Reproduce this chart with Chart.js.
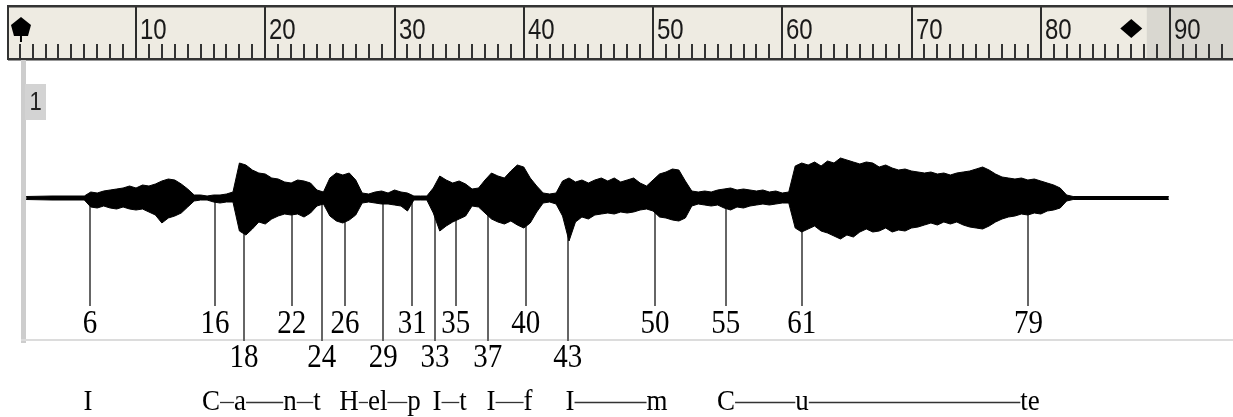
<!DOCTYPE html>
<html><head><meta charset="utf-8">
<script src="https://cdn.jsdelivr.net/npm/chart.js@4.4.1/dist/chart.umd.min.js"></script>
<style>html,body{margin:0;padding:0;background:#fff;}canvas{display:block;background:#fff;}</style>
</head><body>
<canvas id="c" width="1233" height="417"></canvas>
<script>
// ---- waveform envelope (time in ruler units, amplitude above / below the baseline) ----
const envTime = [1.5,3.5,6,6.5,7,7.5,8,8.5,9,9.5,10,10.5,11,11.5,12,12.5,13,13.5,14,14.5,15,15.5,16,16.5,17,17.5,18,18.5,19,19.5,20,20.5,21,21.5,22,22.5,23,23.5,24,24.5,25,25.5,26,26.5,27,27.5,28,28.5,29,29.5,30,30.5,31,31.5,32,32.5,33,33.5,34,34.5,35,35.5,36,36.5,37,37.5,38,38.5,39,39.5,40,40.5,41,41.5,42,42.5,43,43.5,44,44.5,45,45.5,46,46.5,47,47.5,48,48.5,49,49.5,50,50.5,51,51.5,52,52.5,53,53.5,54,54.5,55,55.5,56,56.5,57,57.5,58,58.5,59,59.5,60,60.5,61,61.5,62,62.5,63,63.5,64,64.5,65,65.5,66,66.5,67,67.5,68,68.5,69,69.5,70,70.5,71,71.5,72,72.5,73,73.5,74,74.5,75,75.5,76,76.5,77,77.5,78,78.5,79,79.5,80,80.5,81,81.5,82,82.5,89.9];
const envUpper = [1.5,2,
  2,6,5,7,8,9,10,12,10,13,12,14,17,19,18,14,9,3,
  3,2,3,3,4,6,
  35,33,28,25,24,20,19,16,15,18,17,15,8,6,
  20,25,23,25,18,5,
  4,6,7,5,8,6,5,2,2,2,
  10,22,18,15,17,14,9,10,
  18,25,22,20,27,33,31,20,12,5,4,5,
  17,20,16,18,15,18,20,17,20,16,18,20,15,12,18,24,26,29,28,17,7,
  6,7,6,8,9,10,8,9,8,7,8,6,7,5,6,
  32,35,33,36,32,37,35,40,38,36,34,36,35,31,33,30,28,29,27,26,25,26,24,25,23,25,26,27,29,31,28,24,21,20,19,20,18,19,17,15,13,10,3,1.5,
  1.5];
const envLower = [-1.5,-2,
  -2,-9,-10,-8,-10,-11,-9,-11,-12,-11,-14,-17,-25,-20,-18,-15,-9,-3,
  -2,-2,-4,-5,-4,-4,
  -33,-37,-31,-24,-26,-21,-18,-16,-17,-16,-19,-15,-8,-6,
  -18,-23,-25,-22,-17,-5,
  -4,-5,-6,-6,-7,-8,-13,-2,-2,-2,
  -15,-33,-28,-24,-21,-18,-8,-9,
  -15,-21,-24,-26,-23,-27,-30,-25,-14,-5,-4,-6,
  -18,-43,-24,-19,-21,-17,-16,-15,-16,-14,-15,-14,-12,-11,-13,-19,-20,-22,-23,-20,-8,
  -6,-7,-8,-7,-10,-12,-9,-10,-8,-7,-6,-7,-6,-5,-5,
  -30,-34,-31,-28,-33,-35,-38,-41,-37,-39,-34,-31,-34,-33,-30,-34,-32,-33,-30,-29,-27,-25,-27,-24,-26,-24,-27,-29,-30,-31,-28,-24,-21,-19,-18,-16,-17,-15,-16,-13,-12,-10,-3,-1.5,
  -1.5];

// ---- segment markers ----
const markerLabels = ["6","16","18","22","24","26","29","31","33","35","37","40","43","50","55","61","79"];
const markerPos    = [6.44,16.11,18.36,22.05,24.37,26.17,29.13,31.38,33.13,34.73,37.21,40.15,43.40,50.15,55.62,61.50,79.04];
const markerRow    = [1,1,2,1,2,1,2,1,2,1,2,1,2,1,1,1,1];

// ---- syllables of the lyric ----
const syllables   = ["I","C","a","n","t","H","el","p","I","t","I","f","I","m","C","u","te"];
const syllablePos = [6.29,15.80,18.05,21.91,24.00,26.48,28.70,31.51,33.29,35.30,37.47,40.33,43.58,50.31,55.65,61.53,79.17];
const syllableJoin= [0,1,1,1,0,1,1,0,1,0,1,0,1,0,1,1,0];

// ---- ruler ----
const rulerMajor  = [10,20,30,40,50,60,70,80,90];
const rulerLabels = ["10","20","30","40","50","60","70","80","90"];
const startMarker = 1.1;
const endMarker   = 87;

function txt(ctx, s, x, yb, font, align, sy, color){
  ctx.save(); ctx.font = font; ctx.textAlign = align; ctx.textBaseline = 'alphabetic';
  ctx.fillStyle = color; ctx.translate(x, yb); ctx.scale(1, sy); ctx.fillText(s, 0, 0); ctx.restore();
}

const deco = {
  id: 'deco',
  beforeDatasetsDraw(chart){
    const ctx = chart.ctx, xs = chart.scales.x, ys = chart.scales.y;
    const W = chart.width;
    ctx.save();
    // ruler box
    const L = 8, T = 6, B = 59;
    ctx.fillStyle = '#eeebe2'; ctx.fillRect(L, T, W - L, B - T);
    const gx = xs.getPixelForValue(88.2);
    ctx.fillStyle = '#d9d7d0'; ctx.fillRect(gx, T, W - gx, B - T);
    // minor ticks
    ctx.strokeStyle = '#333'; ctx.lineWidth = 2;
    for (let u = 1; u <= Math.floor(xs.max); u++) {
      const px = Math.round(xs.getPixelForValue(u));
      ctx.beginPath(); ctx.moveTo(px, 44); ctx.lineTo(px, B); ctx.stroke();
    }
    // major ticks & labels
    ctx.lineWidth = 2; ctx.strokeStyle = '#2c2c2c';
    rulerMajor.forEach((u, i) => {
      const px = Math.round(xs.getPixelForValue(u));
      ctx.beginPath(); ctx.moveTo(px, T); ctx.lineTo(px, B); ctx.stroke();
      txt(ctx, rulerLabels[i], px + 4, 39, '24px "Liberation Sans", Arial, sans-serif', 'left', 1.22, '#1a1a1a');
    });
    // borders
    ctx.fillStyle = '#333';
    ctx.fillRect(L, T - 1, W - L, 2.5);
    ctx.fillRect(L, B - 1, W - L, 2.5);
    ctx.fillRect(L - 1, T - 1, 2, B - T + 2);
    // start marker (pentagon)
    const sx = xs.getPixelForValue(startMarker);
    ctx.fillStyle = '#000';
    ctx.beginPath();
    ctx.moveTo(sx, 17); ctx.lineTo(sx + 10, 25); ctx.lineTo(sx + 7, 36); ctx.lineTo(sx - 7, 36); ctx.lineTo(sx - 10, 25);
    ctx.closePath(); ctx.fill();
    ctx.fillRect(sx - 1, 36, 2, 6);
    // end marker (diamond)
    const ex = xs.getPixelForValue(endMarker);
    ctx.beginPath();
    ctx.moveTo(ex, 19); ctx.lineTo(ex + 11, 28.5); ctx.lineTo(ex, 38); ctx.lineTo(ex - 11, 28.5);
    ctx.closePath(); ctx.fill();

    // track frame
    ctx.fillStyle = '#cdcdcd'; ctx.fillRect(21, 60, 5, 283);
    ctx.fillStyle = '#dcdcdc'; ctx.fillRect(21, 339, W - 21, 2);
    ctx.fillStyle = '#d3d3d3'; ctx.fillRect(25, 84, 21, 36);
    txt(ctx, '1', 35.5, 110, '22px "Liberation Sans", Arial, sans-serif', 'center', 1.2, '#222');

    // marker lines
    ctx.strokeStyle = '#666'; ctx.lineWidth = 2;
    const y0 = ys.getPixelForValue(0);
    markerPos.forEach((u, i) => {
      const px = Math.round(xs.getPixelForValue(u));
      const yEnd = markerRow[i] === 1 ? 306 : 341;
      ctx.beginPath(); ctx.moveTo(px, y0); ctx.lineTo(px, yEnd); ctx.stroke();
    });
    ctx.restore();
  },
  afterDatasetsDraw(chart){
    const ctx = chart.ctx, xs = chart.scales.x;
    const numFont = '29px "Liberation Serif", "Times New Roman", serif';
    markerPos.forEach((u, i) => {
      const px = xs.getPixelForValue(u);
      txt(ctx, markerLabels[i], px, markerRow[i] === 1 ? 333 : 367, numFont, 'center', 1.15, '#000');
    });
    const sylFont = '27px "Liberation Serif", "Times New Roman", serif';
    ctx.save(); ctx.font = sylFont;
    const w = syllables.map(s => ctx.measureText(s).width);
    ctx.restore();
    syllables.forEach((s, i) => {
      const px = xs.getPixelForValue(syllablePos[i]);
      txt(ctx, s, px, 410, sylFont, 'center', 1.12, '#000');
      if (syllableJoin[i]) {
        const nx = xs.getPixelForValue(syllablePos[i + 1]);
        ctx.save(); ctx.strokeStyle = '#333'; ctx.lineWidth = 1.3;
        ctx.beginPath(); ctx.moveTo(px + w[i] / 2, 402.5); ctx.lineTo(nx - w[i + 1] / 2, 402.5); ctx.stroke();
        ctx.restore();
      }
    });
  }
};

new Chart(document.getElementById('c'), {
  type: 'line',
  data: {
    datasets: [
      { data: envTime.map((t, i) => ({ x: t, y: envUpper[i] })), borderColor: '#000', backgroundColor: '#000', borderWidth: 1, pointRadius: 0, fill: '+1', tension: 0 },
      { data: envTime.map((t, i) => ({ x: t, y: envLower[i] })), borderColor: '#000', backgroundColor: '#000', borderWidth: 1, pointRadius: 0, fill: false, tension: 0 }
    ]
  },
  options: {
    responsive: false, animation: false, devicePixelRatio: 1,
    layout: { padding: 0 },
    plugins: { legend: { display: false }, tooltip: { enabled: false } },
    scales: {
      x: { type: 'linear', display: false, min: -0.523, max: 94.87 },
      y: { type: 'linear', display: false, min: -219, max: 198 }
    }
  },
  plugins: [deco]
});
</script>
</body></html>
